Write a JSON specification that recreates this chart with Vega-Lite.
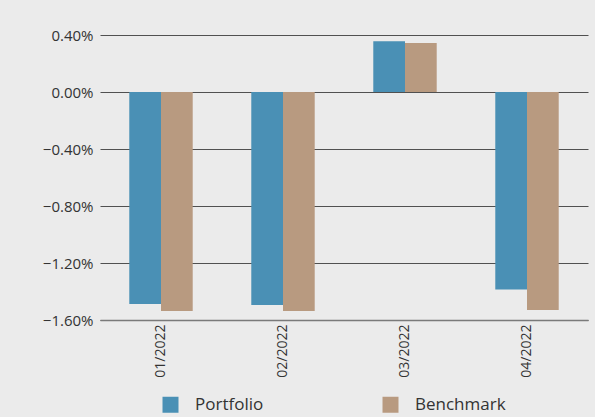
{
  "$schema": "https://vega.github.io/schema/vega-lite/v6.json",
  "width": 488,
  "height": 285,
  "autosize": {"type": "none"},
  "padding": {"left": 100, "top": 35, "right": 7, "bottom": 97},
  "background": "#ebebeb",
  "config": {
    "view": {"stroke": null, "fill": "#ebebeb"},
    "font": "Open Sans"
  },
  "data": {
    "values": [
      {"month": "01/2022", "series": "Portfolio", "value": -0.01488},
      {"month": "01/2022", "series": "Benchmark", "value": -0.01537},
      {"month": "02/2022", "series": "Portfolio", "value": -0.01495},
      {"month": "02/2022", "series": "Benchmark", "value": -0.01537},
      {"month": "03/2022", "series": "Portfolio", "value": 0.00356},
      {"month": "03/2022", "series": "Benchmark", "value": 0.00344},
      {"month": "04/2022", "series": "Portfolio", "value": -0.01386},
      {"month": "04/2022", "series": "Benchmark", "value": -0.0153}
    ]
  },
  "mark": {"type": "bar"},
  "encoding": {
    "x": {
      "field": "month",
      "type": "nominal",
      "scale": {"paddingInner": 0.48, "paddingOuter": 0.24},
      "axis": {
        "title": null,
        "labelAngle": -90,
        "labelFontSize": 14,
        "labelColor": "#333333",
        "labelPadding": 4,
        "ticks": false,
        "domainColor": "#7a7a7a",
        "domainWidth": 1.5,
        "grid": false
      }
    },
    "xOffset": {
      "field": "series",
      "type": "nominal",
      "sort": ["Portfolio", "Benchmark"],
      "scale": {"paddingInner": 0, "paddingOuter": 0}
    },
    "y": {
      "field": "value",
      "type": "quantitative",
      "scale": {"domain": [-0.016, 0.004], "nice": false, "zero": true},
      "axis": {
        "title": null,
        "format": ".2%",
        "values": [-0.016, -0.012, -0.008, -0.004, 0, 0.004],
        "labelFontSize": 15,
        "labelColor": "#333333",
        "labelPadding": 7,
        "ticks": false,
        "domain": false,
        "grid": true,
        "gridColor": "#505050",
        "gridWidth": 1.2
      }
    },
    "color": {
      "field": "series",
      "type": "nominal",
      "sort": ["Portfolio", "Benchmark"],
      "scale": {"domain": ["Portfolio", "Benchmark"], "range": ["#4a90b5", "#b89a80"]},
      "legend": {
        "title": null,
        "orient": "none",
        "direction": "horizontal",
        "legendX": 62,
        "legendY": 361,
        "symbolType": "square",
        "symbolSize": 256,
        "symbolStrokeWidth": 0,
        "labelFontSize": 17,
        "labelColor": "#333333",
        "labelOffset": 16,
        "columnPadding": 118
      }
    }
  }
}
